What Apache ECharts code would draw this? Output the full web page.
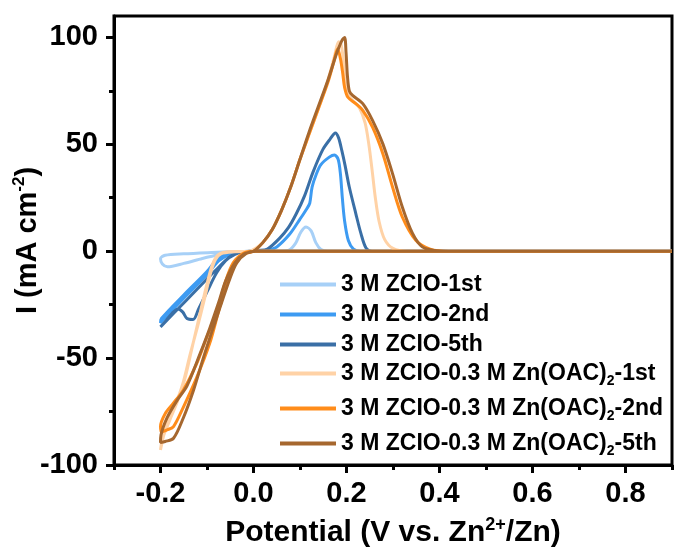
<!DOCTYPE html>
<html>
<head>
<meta charset="utf-8">
<script src="https://cdn.jsdelivr.net/npm/echarts@6/dist/echarts.min.js"></script>
<style>html,body{margin:0;padding:0;background:#fff}#c{width:676px;height:554px}</style>
</head>
<body>
<div id="c"></div>
<script>
const seriesNames = ['3 M ZCIO-1st', '3 M ZCIO-2nd', '3 M ZCIO-5th',
  '3 M ZCIO-0.3 M Zn(OAC)2-1st', '3 M ZCIO-0.3 M Zn(OAC)2-2nd', '3 M ZCIO-0.3 M Zn(OAC)2-5th'];
const seriesColors = ['#a7d0f7', '#3d9bf2', '#3a6fa6', '#ffd2a6', '#ff8c1a', '#a6672e'];

const xMajorTicks = [-0.2, 0.0, 0.2, 0.4, 0.6, 0.8];
const xMinorTicks = [-0.3, -0.1, 0.1, 0.3, 0.5, 0.7, 0.9];
const yMajorTicks = [-100, -50, 0, 50, 100];
const yMinorTicks = [-75, -25, 25, 75];

const zcio1st = [[0.9,0],[0.5,0],[0.2,0],[0.05,0],[0,0],[-0.04,-0.2],[-0.09,-0.6],[-0.15,-1.2],[-0.19,-1.9],[-0.2,-3.5],[-0.196,-6],[-0.185,-7.3],[-0.15,-5.7],[-0.11,-3.4],[-0.08,-1.9],[-0.04,-0.6],[0,0],[0.05,0],[0.075,0.4],[0.09,3.5],[0.102,9],[0.113,11.3],[0.124,9.5],[0.134,4],[0.145,0.8],[0.16,0],[0.3,0],[0.9,0]];

const zcio2nd = [[0.9,0],[0.5,0],[0.25,0],[0.1,0],[0.02,0],[-0.02,-0.3],[-0.05,-1.5],[-0.075,-4.5],[-0.1,-11],[-0.15,-22],[-0.2,-33.5],[-0.198,-31.5],[-0.15,-20.5],[-0.1,-9.5],[-0.075,-3],[-0.05,-0.8],[-0.02,-0.1],[0.01,0],[0.03,0.5],[0.05,2],[0.078,8],[0.1,15],[0.115,20],[0.121,22.5],[0.126,30],[0.135,36],[0.145,40.5],[0.163,44],[0.174,45],[0.182,43],[0.187,36],[0.191,25],[0.196,14],[0.204,5],[0.215,1],[0.23,0],[0.9,0]];

const zcio5th = [[0.9,0],[0.5,0],[0.27,0],[0.1,0],[0.02,0],[-0.01,-0.2],[-0.03,-0.5],[-0.05,-2.5],[-0.075,-7.5],[-0.1,-13],[-0.15,-24.2],[-0.2,-35.4],[-0.19,-33],[-0.175,-29],[-0.162,-27],[-0.152,-28.5],[-0.143,-31.5],[-0.13,-32],[-0.118,-27],[-0.1,-19],[-0.079,-10],[-0.06,-4.5],[-0.04,-1.5],[-0.02,-0.3],[0.01,0.3],[0.03,1],[0.056,6],[0.075,11],[0.092,17.5],[0.11,26],[0.128,37],[0.149,47.5],[0.165,52.5],[0.176,55.3],[0.183,53],[0.19,47],[0.197,40],[0.206,30],[0.22,17.6],[0.231,8.3],[0.242,1.5],[0.255,0],[0.9,0]];

const znOac1st = [[0.9,0],[0.5,0],[0.35,0],[0.1,0],[0,0],[-0.04,-0.3],[-0.07,-1.2],[-0.082,-4],[-0.092,-10],[-0.105,-22],[-0.12,-35],[-0.136,-48],[-0.152,-62],[-0.17,-73],[-0.188,-82],[-0.2,-93],[-0.196,-88],[-0.18,-79],[-0.163,-70],[-0.148,-60],[-0.133,-46],[-0.117,-31],[-0.102,-17],[-0.088,-6],[-0.075,-1.5],[-0.05,-0.2],[-0.01,0],[0.02,4],[0.04,10],[0.06,19],[0.08,30],[0.1,43],[0.12,55],[0.14,67],[0.16,80],[0.174,91],[0.183,98],[0.188,97],[0.193,90],[0.197,80],[0.203,73.5],[0.215,70],[0.228,67],[0.24,60],[0.248,50],[0.255,38],[0.262,25],[0.27,14],[0.282,5.5],[0.3,1.3],[0.33,0],[0.9,0]];

const znOac2nd = [[0.9,0],[0.5,0],[0.42,0],[0.1,0],[0,0],[-0.022,-1],[-0.044,-5.5],[-0.06,-14],[-0.08,-29],[-0.1,-40],[-0.122,-52.5],[-0.151,-65],[-0.172,-71],[-0.19,-76],[-0.2,-82],[-0.198,-84.5],[-0.186,-83.6],[-0.172,-82],[-0.151,-73],[-0.122,-59],[-0.094,-43],[-0.075,-28],[-0.058,-15],[-0.04,-6],[-0.02,-1.2],[0,0],[0.02,4],[0.04,10],[0.06,19],[0.08,30],[0.1,43],[0.12,55],[0.14,67],[0.16,79],[0.172,88],[0.181,94.7],[0.187,90],[0.192,83],[0.196,76.5],[0.203,72],[0.22,69],[0.235,65.9],[0.256,58],[0.278,45.7],[0.299,30],[0.32,16],[0.349,5.1],[0.38,1],[0.42,0],[0.9,0]];

const znOac5th = [[0.9,0],[0.5,0],[0.42,0],[0.1,0],[0.005,0],[-0.015,-1],[-0.036,-5.5],[-0.051,-13],[-0.07,-25],[-0.087,-36],[-0.108,-50],[-0.129,-65],[-0.151,-78],[-0.172,-87.5],[-0.19,-89],[-0.2,-89.5],[-0.199,-86],[-0.186,-78],[-0.165,-70],[-0.143,-63],[-0.115,-48],[-0.094,-36],[-0.075,-24],[-0.06,-14],[-0.04,-5.5],[-0.02,-1.2],[0,0],[0.02,4],[0.04,10],[0.06,19],[0.08,30],[0.1,43],[0.12,56],[0.14,68],[0.16,80],[0.178,92],[0.19,98.5],[0.196,100],[0.199,93],[0.202,82],[0.206,75],[0.213,72.9],[0.235,69],[0.256,61.2],[0.278,50.3],[0.299,36.3],[0.32,20.7],[0.342,8.3],[0.363,2],[0.39,0.3],[0.42,0],[0.9,0]];

const allData = [zcio1st, zcio2nd, zcio5th, znOac1st, znOac2nd, znOac5th];
const legendCenters = [288, 318, 348, 377, 412, 447];

const FF = 'Liberation Sans, Arial, sans-serif';
const chart = echarts.init(document.getElementById('c'), null, {renderer: 'canvas'});

const legendRich = {
  n: {fontSize: 23, fontWeight: 'bold', fontFamily: FF, color: '#000', lineHeight: 30},
  b: {fontSize: 14, fontWeight: 'bold', fontFamily: FF, color: '#000', lineHeight: 14, verticalAlign: 'bottom'}
};
function legendFmt(name) {
  return '{n|' + name.replace('(OAC)2', '(OAC)}{b|2}{n|') + '}';
}

const option = {
  animation: false,
  grid: {left: 114, right: 4, top: 16, bottom: 89, show: true, borderColor: '#000', borderWidth: 3,
    backgroundColor: 'transparent', containLabel: false, outerBoundsMode: 'none'},
  xAxis: [{
    type: 'value', min: -0.3, max: 0.9, gridIndex: 0,
    axisLine: {show: true, onZero: false, lineStyle: {color: '#000', width: 3}},
    axisTick: {show: true, length: 8, lineStyle: {color: '#000', width: 3}, customValues: xMajorTicks},
    axisLabel: {customValues: xMajorTicks, formatter: v => v.toFixed(1), fontSize: 29, fontWeight: 'bold', fontFamily: FF, color: '#000', margin: 14},
    splitLine: {show: false},
    name: '{a|Potential (V vs. Zn}{s|2+}{a|/Zn)}',
    nameLocation: 'middle', nameGap: 51,
    nameTextStyle: {rich: {
      a: {fontSize: 30, fontWeight: 'bold', fontFamily: FF, color: '#000', lineHeight: 34},
      s: {fontSize: 18, fontWeight: 'bold', fontFamily: FF, color: '#000', lineHeight: 17, verticalAlign: 'top'}
    }}
  }, {
    type: 'value', min: -0.3, max: 0.9, gridIndex: 0, position: 'bottom',
    axisLine: {show: false, onZero: false},
    axisTick: {show: true, length: 5, lineStyle: {color: '#000', width: 3}, customValues: xMinorTicks},
    axisLabel: {show: false},
    splitLine: {show: false}
  }],
  yAxis: [{
    type: 'value', min: -100, max: 110, gridIndex: 0,
    axisLine: {show: true, onZero: false, lineStyle: {color: '#000', width: 3}},
    axisTick: {show: true, length: 8, lineStyle: {color: '#000', width: 3}, customValues: yMajorTicks},
    axisLabel: {customValues: yMajorTicks, fontSize: 29, fontWeight: 'bold', fontFamily: FF, color: '#000', margin: 16},
    splitLine: {show: false},
    name: '{a|I (mA cm}{s|-2}{a|)}',
    nameLocation: 'middle', nameGap: 69, nameRotate: 90, nameMoveOverlap: false,
    nameTextStyle: {rich: {
      a: {fontSize: 29, fontWeight: 'bold', fontFamily: FF, color: '#000', lineHeight: 34},
      s: {fontSize: 17, fontWeight: 'bold', fontFamily: FF, color: '#000', lineHeight: 17, verticalAlign: 'top'}
    }}
  }, {
    type: 'value', min: -100, max: 110, gridIndex: 0, position: 'left',
    axisLine: {show: false, onZero: false},
    axisTick: {show: true, length: 5, lineStyle: {color: '#000', width: 3}, customValues: yMinorTicks},
    axisLabel: {show: false},
    splitLine: {show: false}
  }],
  legend: seriesNames.map((n, i) => ({
    data: [n], left: 280, top: legendCenters[i] - 15, padding: 0,
    icon: 'rect', itemWidth: 56, itemHeight: 4, itemGap: 0,
    formatter: legendFmt,
    textStyle: {rich: legendRich}
  })),
  series: seriesNames.map((n, i) => ({
    name: n, type: 'line', xAxisIndex: 0, yAxisIndex: 0,
    data: allData[i], symbol: 'none', showSymbol: false, smooth: 0.3,
    lineStyle: {color: seriesColors[i], width: 3},
    itemStyle: {color: seriesColors[i]},
    z: 2 + i
  }))
};
chart.setOption(option);
</script>
</body>
</html>
